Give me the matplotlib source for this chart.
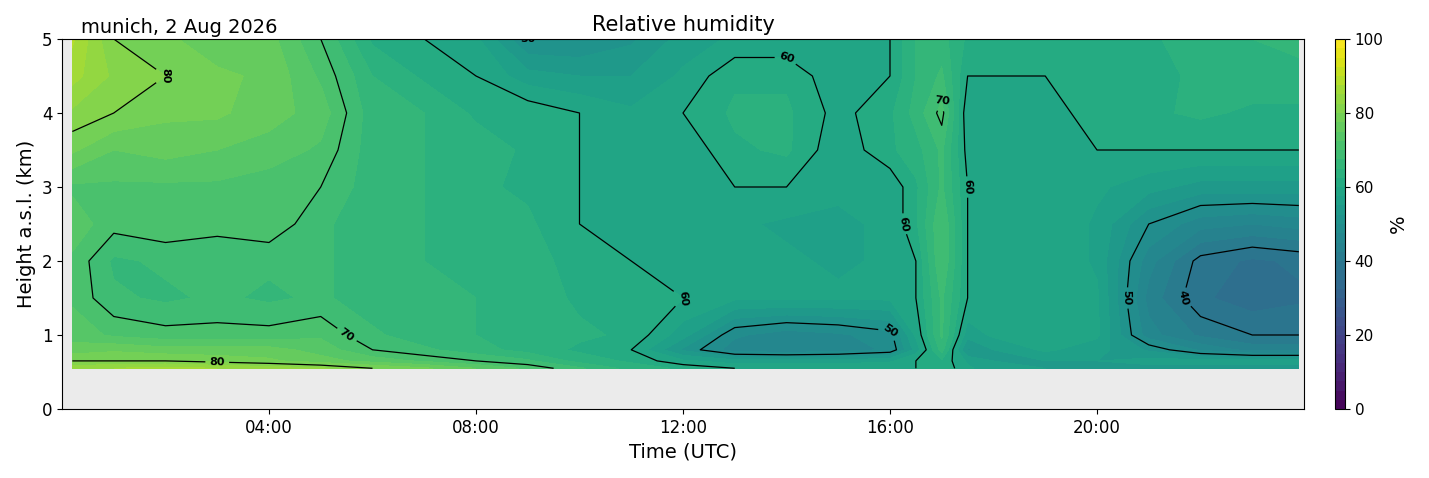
import numpy as np
import matplotlib
matplotlib.use("Agg")
import matplotlib.pyplot as plt

times = [0.2,1,2,3,4,5,6,7,8,9,10,11,12,13,14,15,16,16.5,17,17.5,18,19,20,21,22,23,23.9]
heights = [0.55,0.65,0.8,1.0,1.5,2.0,2.5,3.0,3.5,4.0,4.5,5.0]
rh = [
 [84,85,86,85,84,83,80,78,75,72,68,64,62,60,60,60,60,60,62,58,56,55,54,54,54,54,54],
 [80,80,80,79,78,76,74,72,70,68,64,62,58,56,56,56,57,60,62,57,55,55,55,56,56,56,56],
 [76,77,76,76,76,74,70,68,66,64,62,60,52,46,45,46,48,56,66,52,55,58,56,52,47,44,44],
 [74,72,71,71,71,72,68,66,65,64,63,62,56,48,46,47,49,58,68,56,58,60,58,46,42,40,40],
 [72,68,67,68,67,68,66,66,65,64,62,62,60,58,58,58,58,60,68,60,60,60,58,44,38,36,37],
 [72,67,68,68,68,68,66,65,65,63,62,60,58,58,58,57,58,60,70,60,60,60,57,46,39,37,38],
 [74,71,72,71,72,68,66,65,64,63,60,58,58,58,57,57,58,62,70,60,60,60,57,50,46,45,46],
 [72,72,72,72,71,70,66,65,63,62,60,58,58,60,60,58,58,62,68,60,60,60,58,56,54,54,54],
 [78,75,76,75,74,72,66,65,64,62,60,58,58,62,63,58,62,64,68,59,58,58,60,60,60,60,60],
 [82,80,78,78,76,74,66,65,62,62,60,58,60,63,63,59,62,66,71,58,58,58,62,62,63,62,62],
 [86,82,80,78,77,72,65,62,60,56,55,55,58,62,62,58,60,65,68,60,60,60,62,60,64,64,64],
 [88,80,78,76,76,70,62,60,58,50,50,52,56,58,58,58,60,65,66,62,62,62,62,62,64,65,66],
]
line_levels = [40, 50, 60, 70, 80]
tick_hours = [4, 8, 12, 16, 20]
tick_labels = ["04:00", "08:00", "12:00", "16:00", "20:00"]

fig = plt.figure(figsize=(14.29, 4.78), dpi=100)
ax = fig.add_axes([62/1429, 69/478, 1242/1429, 370/478])
cax = fig.add_axes([1335/1429, 69/478, 10/1429, 370/478])
ax.set_facecolor("#ebebeb")
Z = np.array(rh, dtype=float)
cf = ax.contourf(times, heights, Z, levels=np.arange(0, 101, 2.5), cmap="viridis", vmin=0, vmax=100)
cs = ax.contour(times, heights, Z, levels=line_levels, colors="black", linewidths=0.9)
for t in ax.clabel(cs, fmt="%d", fontsize=8, inline=True):
    t.set_fontweight("bold")
ax.set_xlim(0, 24)
ax.set_ylim(0, 5)
ax.set_xticks(tick_hours)
ax.set_xticklabels(tick_labels)
ax.tick_params(labelsize=12)
ax.set_xlabel("Time (UTC)", fontsize=14)
ax.set_ylabel("Height a.s.l. (km)", fontsize=14)
ax.set_title("Relative humidity", fontsize=15)
ax.text(0.015, 1.005, "munich, 2 Aug 2026", transform=ax.transAxes, fontsize=14, va="bottom")
cb = fig.colorbar(cf, cax=cax, ticks=[0, 20, 40, 60, 80, 100])
cb.set_label("%", fontsize=14)
cb.ax.tick_params(labelsize=11)
fig.savefig("out.png", dpi=100)
